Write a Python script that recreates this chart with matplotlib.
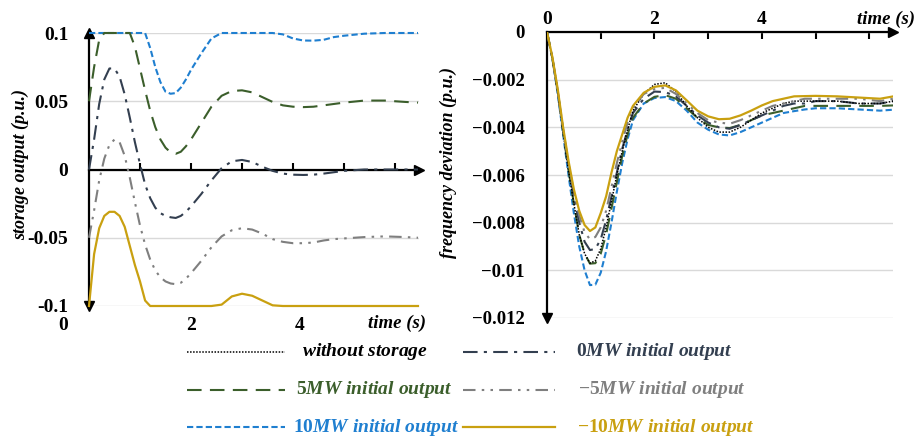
import matplotlib
matplotlib.use("Agg")
import matplotlib.pyplot as plt
from matplotlib.lines import Line2D
from matplotlib.transforms import blended_transform_factory
import numpy as np

plt.rcParams['font.family'] = 'Liberation Serif'
plt.rcParams['font.weight'] = 'bold'
plt.rcParams['mathtext.fontset'] = 'custom'
plt.rcParams['mathtext.rm'] = 'Liberation Serif:bold'
plt.rcParams['mathtext.bf'] = 'Liberation Serif:bold'
plt.rcParams['mathtext.it'] = 'Liberation Serif:italic:bold'

# ---- data ----
t_store = [0, 0.1, 0.2, 0.3, 0.4, 0.5, 0.6, 0.7, 0.8, 0.9, 1.0, 1.1, 1.2, 1.3, 1.4,
           1.5, 1.6, 1.7, 1.8, 1.9, 2.0, 2.2, 2.4, 2.6, 2.8, 3.0, 3.2, 3.4, 3.6, 3.8,
           4.0, 4.2, 4.4, 4.6, 4.8, 5.0, 5.4, 5.8, 6.2, 6.45]

store_0mw = [0, 0.022, 0.048, 0.066, 0.074, 0.074, 0.068, 0.055, 0.038, 0.02, 0.004,
             -0.011, -0.021, -0.028, -0.032, -0.034, -0.035, -0.0355, -0.034, -0.031,
             -0.027, -0.018, -0.008, 0.001, 0.006, 0.007, 0.0055, 0.002, -0.001, -0.003,
             -0.0038, -0.004, -0.0038, -0.003, -0.002, -0.001, 0.0, 0.0, 0.0, 0.0]
store_5mw = [0.05, 0.075, 0.095, 0.1, 0.1, 0.1, 0.1, 0.1, 0.1, 0.09, 0.074, 0.058,
             0.043, 0.031, 0.022, 0.016, 0.0125, 0.0115, 0.013, 0.017, 0.022, 0.034,
             0.046, 0.054, 0.0575, 0.058, 0.0565, 0.053, 0.0495, 0.047, 0.046, 0.0457,
             0.046, 0.047, 0.048, 0.049, 0.0505, 0.0505, 0.0495, 0.049]
store_m5mw = [-0.05, -0.03, -0.008, 0.008, 0.018, 0.022, 0.02, 0.01, -0.006, -0.024,
              -0.041, -0.055, -0.066, -0.074, -0.079, -0.082, -0.0835, -0.084, -0.083,
              -0.08, -0.076, -0.067, -0.057, -0.049, -0.0445, -0.043, -0.044, -0.047,
              -0.051, -0.053, -0.054, -0.054, -0.0535, -0.052, -0.051, -0.0505, -0.0495,
              -0.049, -0.0495, -0.05]
store_10mw = [0.1, 0.1, 0.1, 0.1, 0.1, 0.1, 0.1, 0.1, 0.1, 0.1, 0.1, 0.1, 0.089, 0.075,
              0.064, 0.057, 0.0555, 0.056, 0.06, 0.066, 0.073, 0.085, 0.096, 0.1, 0.1,
              0.1, 0.1, 0.1, 0.1, 0.099, 0.096, 0.0945, 0.0944, 0.095, 0.097, 0.098,
              0.0995, 0.1, 0.1, 0.1]
store_m10mw = [-0.1, -0.062, -0.043, -0.034, -0.031, -0.031, -0.034, -0.042, -0.056,
               -0.07, -0.082, -0.096, -0.1, -0.1, -0.1, -0.1, -0.1, -0.1, -0.1, -0.1,
               -0.1, -0.1, -0.1, -0.099, -0.093, -0.091, -0.0925, -0.096, -0.0995, -0.1,
               -0.1, -0.1, -0.1, -0.1, -0.1, -0.1, -0.1, -0.1, -0.1, -0.1]

t_freq = [0, 0.1, 0.2, 0.3, 0.4, 0.5, 0.6, 0.7, 0.8, 0.9, 1.0, 1.1, 1.2, 1.3, 1.4,
          1.5, 1.6, 1.8, 2.0, 2.2, 2.4, 2.6, 2.8, 3.0, 3.2, 3.4, 3.6, 3.8, 4.0, 4.2,
          4.4, 4.6, 4.8, 5.0, 5.4, 5.8, 6.2, 6.45]

freq_none = [0, -0.0011, -0.0025, -0.0042, -0.0058, -0.0072, -0.0085, -0.0093, -0.0097,
             -0.0096, -0.0091, -0.0082, -0.0071, -0.006, -0.005, -0.0041, -0.0033,
             -0.0026, -0.0022, -0.00213, -0.0025, -0.0031, -0.0036, -0.004, -0.0042,
             -0.0042, -0.004, -0.0037, -0.0034, -0.0032, -0.003, -0.0029, -0.0029,
             -0.0029, -0.0029, -0.003, -0.003, -0.0029]
freq_0mw = [0, -0.0011, -0.0025, -0.0041, -0.0056, -0.0069, -0.008, -0.0088, -0.00915,
            -0.0091, -0.0087, -0.0079, -0.0069, -0.0059, -0.0049, -0.0041, -0.0034,
            -0.0028, -0.0025, -0.00252, -0.0027, -0.0031, -0.0035, -0.0038, -0.004,
            -0.00406, -0.0039, -0.0037, -0.0035, -0.0033, -0.0031, -0.003, -0.003,
            -0.0029, -0.0029, -0.003, -0.003, -0.0029]
freq_5mw = [0, -0.0011, -0.0025, -0.0042, -0.0058, -0.0072, -0.0085, -0.0093, -0.00972,
            -0.0097, -0.0093, -0.0085, -0.0074, -0.0063, -0.0052, -0.0043, -0.0036,
            -0.003, -0.00272, -0.00265, -0.0028, -0.0032, -0.0036, -0.0039, -0.004,
            -0.00403, -0.0039, -0.0037, -0.0035, -0.0034, -0.0033, -0.0032, -0.0031,
            -0.0031, -0.0031, -0.0031, -0.0031, -0.00308]
freq_m5mw = [0, -0.0011, -0.0025, -0.0041, -0.0055, -0.0067, -0.0077, -0.0084, -0.0087,
             -0.0086, -0.0082, -0.0075, -0.0065, -0.0055, -0.0046, -0.0038, -0.0032,
             -0.0026, -0.0024, -0.00234, -0.0026, -0.003, -0.0034, -0.0037, -0.0038,
             -0.00385, -0.0037, -0.0035, -0.0033, -0.0031, -0.003, -0.0029, -0.0028,
             -0.0028, -0.0028, -0.0028, -0.0029, -0.0028]
freq_10mw = [0, -0.0011, -0.0026, -0.0043, -0.006, -0.0076, -0.009, -0.01, -0.01062,
             -0.0106, -0.0101, -0.0092, -0.008, -0.0067, -0.0055, -0.0045, -0.0037,
             -0.003, -0.00277, -0.00273, -0.0029, -0.0033, -0.0038, -0.0041, -0.0043,
             -0.00434, -0.0042, -0.004, -0.0038, -0.0036, -0.0034, -0.00332, -0.00325,
             -0.0032, -0.0032, -0.00325, -0.0033, -0.00326]
freq_m10mw = [0, -0.00105, -0.0024, -0.004, -0.0054, -0.0066, -0.0075, -0.0081, -0.00835,
              -0.0082, -0.0076, -0.0069, -0.0059, -0.005, -0.0043, -0.0036, -0.0031,
              -0.00255, -0.0023, -0.00224, -0.00245, -0.00287, -0.0033, -0.00354,
              -0.00366, -0.00364, -0.0035, -0.0033, -0.00308, -0.0029, -0.0028, -0.0027,
              -0.00269, -0.00268, -0.0027, -0.00275, -0.0028, -0.0027]

left_yticks = [0.1, 0.05, 0, -0.05, -0.1]
left_ylabels = ['0.1', '0.05', '0', '-0.05', '-0.1']
right_yticks = [0, -0.002, -0.004, -0.006, -0.008, -0.01, -0.012]
right_ylabels = ['0', '\u22120.002', '\u22120.004', '\u22120.006', '\u22120.008',
                 '\u22120.01', '\u22120.012']

BLACK = '#000000'
SLATE = '#333f50'
GREEN = '#3b5e2b'
GRAY = '#7f7f7f'
BLUE = '#1f7fd0'
GOLD = '#c9a010'

styles = {
    'none': dict(color=BLACK, ls=(0, (1, 1)), lw=1.1),
    '0mw': dict(color=SLATE, ls=(0, (7, 3, 1.5, 3)), lw=1.5),
    '5mw': dict(color=GREEN, ls=(0, (7, 4)), lw=1.5),
    'm5mw': dict(color=GRAY, ls=(0, (6, 3, 1.2, 3, 1.2, 3)), lw=1.5),
    '10mw': dict(color=BLUE, ls=(0, (3, 1.5)), lw=1.5),
    'm10mw': dict(color=GOLD, ls='-', lw=1.6),
}

W, H = 917, 437
fig = plt.figure(figsize=(W / 100, H / 100), dpi=100)
FS = 13.5
LFS = 14

# ---------------- left: storage output ----------------
axL = fig.add_axes([89 / W, 1 - 306 / H, (419 - 89) / W, (306 - 33) / H])
axL.plot(t_store, store_10mw, **styles['10mw'], clip_on=False, zorder=3)
axL.plot(t_store, store_5mw, **styles['5mw'], clip_on=False, zorder=3)
axL.plot(t_store, store_0mw, **styles['0mw'], clip_on=False, zorder=3)
axL.plot(t_store, store_m5mw, **styles['m5mw'], clip_on=False, zorder=3)
axL.plot(t_store, store_m10mw, **styles['m10mw'], clip_on=False, zorder=3)
axL.set_xlim(0, 6.47)
axL.set_ylim(-0.1, 0.1)
for s in ['top', 'right']:
    axL.spines[s].set_visible(False)
axL.spines['bottom'].set_position(('data', 0))
axL.spines['left'].set_linewidth(1.6)
axL.spines['bottom'].set_linewidth(1.6)
axL.set_xticks([1, 2, 3, 4, 5, 6])
axL.tick_params(axis='x', direction='in', length=5, width=1.5, labelbottom=False)
axL.set_yticks(left_yticks)
axL.set_yticklabels(left_ylabels, fontsize=14, fontweight='bold')
axL.tick_params(axis='y', length=0, pad=15)
axL.yaxis.grid(True, color='#d9d9d9', lw=1)
axL.set_axisbelow(True)
axL.plot(1, 0, '>k', ms=7, transform=axL.get_yaxis_transform(), clip_on=False)
axL.plot(0, 1, '^k', ms=7, transform=axL.get_xaxis_transform(), clip_on=False)
axL.plot(0, 0, 'vk', ms=7, transform=axL.get_xaxis_transform(), clip_on=False)
trL = blended_transform_factory(axL.transData, fig.transFigure)
for xv, lab in [(-0.5, '0'), (2.0, '2'), (4.13, '4')]:
    axL.text(xv, 1 - 325 / H, lab, transform=trL, ha='center', va='center',
             fontsize=14, fontweight='bold')
axL.text(6.6, 1 - 323 / H, 'time (s)', transform=trL, ha='right', va='center',
         fontsize=FS, fontweight='bold', fontstyle='italic')
fig.text(20 / W, 1 - 164 / H, 'storage output (p.u.)', rotation=90, ha='center',
         va='center', fontsize=13, fontweight='bold', fontstyle='italic')

# ---------------- right: frequency deviation ----------------
axR = fig.add_axes([547 / W, 1 - 318 / H, (893 - 547) / W, (318 - 32) / H])
axR.plot(t_freq, freq_10mw, **styles['10mw'], zorder=3)
axR.plot(t_freq, freq_5mw, **styles['5mw'], zorder=3)
axR.plot(t_freq, freq_0mw, **styles['0mw'], zorder=3)
axR.plot(t_freq, freq_none, **styles['none'], zorder=3)
axR.plot(t_freq, freq_m5mw, **styles['m5mw'], zorder=3)
axR.plot(t_freq, freq_m10mw, **styles['m10mw'], zorder=4)
axR.set_xlim(0, 6.44)
axR.set_ylim(-0.012, 0)
for s in ['bottom', 'right']:
    axR.spines[s].set_visible(False)
axR.spines['left'].set_linewidth(1.6)
axR.spines['top'].set_linewidth(1.6)
axR.xaxis.tick_top()
axR.set_xticks([1, 2, 3, 4, 5, 6])
axR.tick_params(axis='x', direction='in', length=5, width=1.5, labeltop=False)
axR.set_yticks(right_yticks)
axR.set_yticklabels(right_ylabels, fontsize=FS, fontweight='bold')
axR.tick_params(axis='y', length=0, pad=16)
axR.yaxis.grid(True, color='#d9d9d9', lw=1)
axR.set_axisbelow(True)
axR.plot(1, 1, '>k', ms=7, transform=axR.transAxes, clip_on=False)
axR.plot(0, 0, 'vk', ms=7, transform=axR.transAxes, clip_on=False)
trR = blended_transform_factory(axR.transData, fig.transFigure)
for xv, lab in [(0, '0'), (2.0, '2'), (4.0, '4')]:
    axR.text(xv, 1 - 19 / H, lab, transform=trR, ha='center', va='center',
             fontsize=14, fontweight='bold')
fig.text(915 / W, 1 - 19 / H, 'time (s)', ha='right', va='center',
         fontsize=FS, fontweight='bold', fontstyle='italic')
fig.text(448 / W, 1 - 162 / H, 'frequency deviation (p.u.)', rotation=90,
         ha='center', va='center', fontsize=13, fontweight='bold', fontstyle='italic')

# ---------------- legend ----------------
legend_rows = [
    ('none', r'$\mathit{without\ storage}$', '0mw', r'$\mathrm{0}\mathit{MW\ initial\ output}$'),
    ('5mw', r'$\mathrm{5}\mathit{MW\ initial\ output}$', 'm5mw', r'$\mathrm{-5}\mathit{MW\ initial\ output}$'),
    ('10mw', r'$\mathrm{10}\mathit{MW\ initial\ output}$', 'm10mw', r'$\mathrm{-10}\mathit{MW\ initial\ output}$'),
]
row_y = [352, 390, 427]
col1_x = [302, 296, 293]
col2_x = [576, 578, 577]
for (k1, l1, k2, l2), yy, x1, x2 in zip(legend_rows, row_y, col1_x, col2_x):
    yf = 1 - yy / H
    fig.add_artist(Line2D([187 / W, 285 / W], [yf, yf], transform=fig.transFigure,
                          **styles[k1]))
    fig.text(x1 / W, yf, l1, ha='left', va='center', fontsize=LFS,
             color=styles[k1]['color'])
    fig.add_artist(Line2D([463 / W, 555 / W], [yf, yf], transform=fig.transFigure,
                          **styles[k2]))
    fig.text(x2 / W, yf, l2, ha='left', va='center', fontsize=LFS,
             color=styles[k2]['color'])

fig.savefig('out.png', dpi=100)
